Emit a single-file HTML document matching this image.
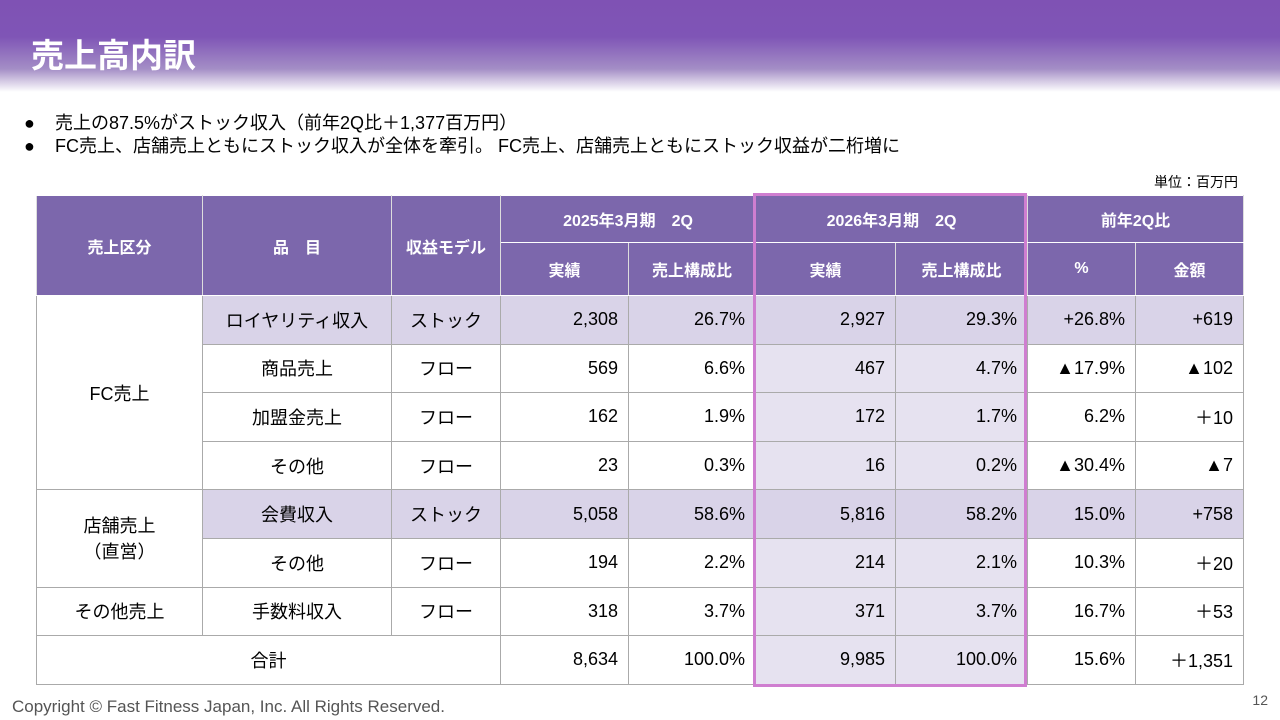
<!DOCTYPE html>
<html><head><meta charset="utf-8">
<style>
body{margin:0;width:1280px;height:720px;position:relative;overflow:hidden;background:#fff;font-family:"Liberation Sans","Noto Sans CJK JP",sans-serif;}
.band{position:absolute;left:0;top:0;width:1280px;height:92px;background:linear-gradient(#7f52b4 0%,#7f55b6 40%,#a48ec6 75%,#fff 100%);}
.title{position:absolute;left:31px;top:29px;font-size:33px;font-weight:bold;color:#fff;}
.bul{position:absolute;left:24px;font-size:18px;color:#000;white-space:nowrap;}
.bul span{display:inline-block;width:31px;}
.unit{position:absolute;right:42px;top:172px;font-size:14px;}
table{position:absolute;left:36px;top:195px;border-collapse:collapse;table-layout:fixed;font-size:18px;}
td,th{border:1px solid #aaa;padding:0 10px;}
th{background:#7c67ac;color:#fff;font-size:16px;font-weight:bold;text-align:center;border-color:#fff #ddd;}
td{height:47.6px;text-align:center;}
td.n{text-align:right;}
tr.s td.c{background:#d9d3e8;}
td.h{background:#e6e2f0;}
tr.s td.h{background:#d9d3e8;}
.hl{position:absolute;left:753px;top:193px;width:268px;height:488px;border:3px solid #cf7ed0;}
.copy{position:absolute;left:12px;top:697px;font-size:17px;color:#555;}
.pg{position:absolute;right:12px;top:692px;font-size:14px;color:#555;}
</style></head><body>
<div class="band"></div>
<div class="title">売上高内訳</div>
<div class="bul" style="top:109px"><span>●</span>売上の87.5%がストック収入（前年2Q比＋1,377百万円）</div>
<div class="bul" style="top:132px"><span>●</span>FC売上、店舗売上ともにストック収入が全体を牽引。 FC売上、店舗売上ともにストック収益が二桁増に</div>
<div class="unit">単位：百万円</div>
<table>
<colgroup><col style="width:166px"><col style="width:189px"><col style="width:109px"><col style="width:128px"><col style="width:127px"><col style="width:140px"><col style="width:132px"><col style="width:108px"><col style="width:108px"></colgroup>
<tr style="height:47px"><th rowspan="2">売上区分</th><th rowspan="2">品　目</th><th rowspan="2" style="padding:0">収益モデル</th><th colspan="2">2025年3月期　2Q</th><th colspan="2">2026年3月期　2Q</th><th colspan="2">前年2Q比</th></tr>
<tr style="height:53px"><th>実績</th><th>売上構成比</th><th>実績</th><th>売上構成比</th><th>%</th><th>金額</th></tr>
<tr class="s"><td rowspan="4">FC売上</td><td class="c">ロイヤリティ収入</td><td class="c">ストック</td><td class="n c">2,308</td><td class="n c">26.7%</td><td class="n h">2,927</td><td class="n h">29.3%</td><td class="n c">+26.8%</td><td class="n c">+619</td></tr>
<tr><td>商品売上</td><td>フロー</td><td class="n">569</td><td class="n">6.6%</td><td class="n h">467</td><td class="n h">4.7%</td><td class="n">▲17.9%</td><td class="n">▲102</td></tr>
<tr><td>加盟金売上</td><td>フロー</td><td class="n">162</td><td class="n">1.9%</td><td class="n h">172</td><td class="n h">1.7%</td><td class="n">6.2%</td><td class="n">＋10</td></tr>
<tr><td>その他</td><td>フロー</td><td class="n">23</td><td class="n">0.3%</td><td class="n h">16</td><td class="n h">0.2%</td><td class="n">▲30.4%</td><td class="n">▲7</td></tr>
<tr class="s"><td rowspan="2">店舗売上<br>（直営）</td><td class="c">会費収入</td><td class="c">ストック</td><td class="n c">5,058</td><td class="n c">58.6%</td><td class="n h">5,816</td><td class="n h">58.2%</td><td class="n c">15.0%</td><td class="n c">+758</td></tr>
<tr><td>その他</td><td>フロー</td><td class="n">194</td><td class="n">2.2%</td><td class="n h">214</td><td class="n h">2.1%</td><td class="n">10.3%</td><td class="n">＋20</td></tr>
<tr><td>その他売上</td><td>手数料収入</td><td>フロー</td><td class="n">318</td><td class="n">3.7%</td><td class="n h">371</td><td class="n h">3.7%</td><td class="n">16.7%</td><td class="n">＋53</td></tr>
<tr><td colspan="3">合計</td><td class="n">8,634</td><td class="n">100.0%</td><td class="n h">9,985</td><td class="n h">100.0%</td><td class="n">15.6%</td><td class="n">＋1,351</td></tr>
</table>
<div class="hl"></div>
<div class="copy">Copyright © Fast Fitness Japan, Inc. All Rights Reserved.</div>
<div class="pg">12</div>
</body></html>
